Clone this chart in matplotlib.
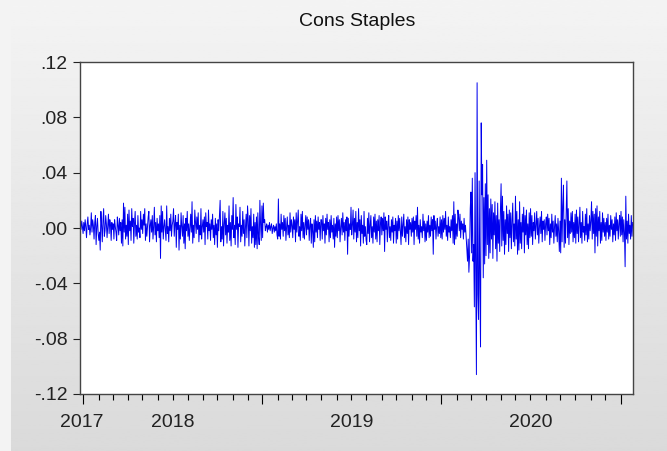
import numpy as np
import pandas as pd
import matplotlib
matplotlib.use("Agg")
import matplotlib.pyplot as plt
from matplotlib import transforms

# Daily returns, in units of 0.001, one line per month
ret_2017 = [2, -1, 5, 1, -4]
ret_2018 = [
    4, -2, 6, 1, -7, 3, 8, -1, 2, -5, 0, 11, -3, 6, 2, -8, 4, 9, -12, 1, 7, -4, -9,
    -3, -16, 12, 2, -10, 5, 14, -6, -2, 9, 3, -7, 1, 10, -4, 6, 2, -9, 4, -1,
    3, -8, 6, 1, -3, -9, 8, 2, -5, 7, -2, 4, -11, 6, -13, 18, -3, 15, -8, 2, -6, 10,
    -12, 13, -2, 5, -9, 14, 1, 7, -11, 3, 12, -6, 2, -8, 9, -3, 0, -7, 12, -1, 6,
    -4, 10, 2, 14, -9, 3, -6, 1, 8, 12, -10, 2, 6, -3, 9, -8, 1, 15, -5, 4, -10, 7, -2,
    3, -7, 9, -22, 16, -3, 12, -8, 1, 6, -2, -9, 16, -4, 1, -10, 7, -2, 10, -6, 2,
    5, 14, -6, 3, 9, -14, 4, -1, 10, -16, 2, -8, 11, 1, -6, 9, -11, 3, -15, 7, -2, 12,
    -6, 3, -9, 1, 10, -3, 19, -11, 2, -7, 13, 4, -4, 8, -1, 11, -10, 2, -5, 14, -8, 1, 6,
    -3, 8, -12, 11, 1, 4, -8, 13, -2, 3, -9, 6, -1, 10, -7, 2, -12, 7, -5, 3,
    -14, 6, -2, 9, 20, -10, 1, -8, 12, -13, 3, 11, -5, 7, -11, 2, -3, 16, -9, 4, -13, 9, -1,
    22, -7, 2, -12, 17, -1, 8, -14, 3, 1, 15, -10, 2, -6, 12, -4, 6, -13, 1, 10, -7, 16,
    6, -13, 9, -2, 14, -11, 1, -7, 10, -14, 4, -12, 8, -15, 11, -6, -12, 20, 3, -9, 16,
]
ret_2019 = [
    -7, 18, 4, 6, -2, 1, 3, -3, 2, -1, 4, -2, 1, 3, -4, 0, 2, -3, 1, -2, 3, -5, -8,
    21, -6, 3, -8, 10, -1, 4, -6, 9, -2, 7, -9, 1, 8, -5, 2, -7, 11, -3, 6,
    2, -7, 8, -1, 6, -10, 11, -3, 5, 13, -6, 1, -9, 10, -2, 12, -7, 4, -8, 2, 9,
    -5, 8, -1, 6, -9, 2, 7, -11, 3, -2, -14, 6, -10, 9, -3, 5, -7, 8, -1, 4, -9, 6,
    6, -8, 9, -2, 3, -11, 7, -5, 10, -1, 4, -10, 6, -7, 9, -3, 2, -8, 7, -14, 3, -6, 8,
    -7, 9, -2, 6, -10, 1, 7, -5, 11, -3, 4, -9, 6, -2, 8, -19, 7, -6, 3, -1,
    15, -5, 2, 13, -8, 7, -3, 12, -10, 4, -7, 14, -2, 6, -13, 9, -4, 2, -11, 12, -6, 1, -9,
    -12, 7, -4, 11, -10, 2, 9, -7, 1, -11, 8, -3, 10, -8, 5, -10, 6, -2, 9, -12, 3, 8,
    -5, 7, -2, 11, -17, 8, -1, 5, -10, 3, 9, -7, 1, -9, 6, -3, 8, -11, 2, -2, 7,
    -11, 5, -8, 9, -2, 7, -3, -12, 8, -6, 2, 10, -7, 1, -10, 6, -4, 8, -12, 6, -1, 4, -6,
    7, -3, 8, -12, 5, -1, 9, -6, 15, -8, 2, -11, 6, -3, 1, -7, 10, -2, 5, -10, 3,
    -9, 5, -3, 9, -7, 2, -6, 8, -2, 6, -19, 9, -1, 5, -8, 2, 7, -6, 1, -4, 8, -7,
]
ret_2020 = [
    6, -8, 9, -3, 7, -1, 12, -6, 2, -9, 8, -3, 1, -7, 6, -2, 9, -11, 19, -12, 10, -8, 3,
    -6, 13, 8, -2, 10, -7, 5, -1, 3, -8, 7, -3, 2, -6, -15, -24, -8, -32, -20, 14,
    26, -18, 36, -24, -12, -57, 40, -32, -106, 105, -48, -66, 34, -44, -86, 76, 24, 46, -36, 22, -26, 32,
    -20, 49, -12, 24, -22, 14, -18, 21, -8, 17, -22, 11, -5, 19, -15, 9, -24, 18, -11, 6, -17, 12,
    32, -13, 23, -9, 12, -19, 6, -12, 16, -4, 10, -17, 13, -7, 11, -15, 5, 18, -10, 3, -13,
    23, -8, 12, -19, 6, -16, 19, -11, 4, -15, 10, -3, 15, -18, 9, -5, 13, -12, 3, -15, 11, -7,
    14, -6, 9, -12, 4, -2, 11, -8, 2, 12, -5, 7, -11, 1, 8, -4, 12, -10, 5, -1, 6, -9, 3,
    8, -5, 10, -2, 7, -12, 3, -7, 10, -3, 5, -11, 1, 9, -6, 3, -10, 7, -2, -17, 5,
    -18, 36, -10, 16, 31, -14, 6, -11, 13, 34, -7, 14, -12, 5, -4, 11, -3, 12, -10, 4, -7, 10,
    -11, 13, -4, 8, -10, 2, 15, -7, 4, -11, 12, -3, 1, -9, 10, -5, 14, -10, 3, -8, 9, -2,
    5, 19, -8, 12, -4, 10, -18, 14, -6, 16, -13, 8, -2, 12, -11, 4, -9, 11, -3, 7, -6,
    4, -9, 7, -3, 10, -8, 2, -6, 9, -1, 6, -10, 3, -5, 8, -9, 11, -2, 6, -8, 3, 9, -6,
]
ret_2021 = [12, -5, 8, -10, 6, -3, -28, 23, -8, 5, -11, 10, -4, 2, -8, 9, -6, 4]

year_labels = ["2017", "2018", "2019", "2020"]
y_ticks = [0.12, 0.08, 0.04, 0.0, -0.04, -0.08, -0.12]
y_tick_labels = [".12", ".08", ".04", ".00", "-.04", "-.08", "-.12"]

returns = np.array(ret_2017 + ret_2018 + ret_2019 + ret_2020 + ret_2021) / 1000.0
dates = pd.bdate_range("2017-12-25", periods=len(returns))
x = np.arange(len(returns))

# month and year boundaries on the observation axis
month_starts = [i - 0.5 for i in range(1, len(dates)) if dates[i].month != dates[i - 1].month]
year_starts = [i - 0.5 for i in range(1, len(dates)) if dates[i].year != dates[i - 1].year]
year_centers = [x[dates.year == int(yr)].mean() for yr in year_labels]

plt.rcParams["font.family"] = ["Liberation Sans", "DejaVu Sans"]

fig = plt.figure(figsize=(6.67, 4.51), dpi=100)

# grey gradient backdrop
bg = fig.add_axes([0, 0, 1, 1], zorder=0)
grad = np.linspace(0.955, 0.855, 256).reshape(-1, 1)
bg.imshow(grad, aspect="auto", cmap="gray", vmin=0, vmax=1, extent=[0, 1, 0, 1])
bg.add_patch(plt.Rectangle((0, 0), 11 / 667, 1, color="#f3f3f3", lw=0))
bg.set_xlim(0, 1)
bg.set_ylim(0, 1)
bg.axis("off")

ax = fig.add_axes([80 / 667, 1 - 394 / 451, 553 / 667, 332 / 451], zorder=1)
ax.set_facecolor("white")
ax.plot(x, returns, color="#0000ee", lw=0.7)

ax.set_xlim(-0.5, len(returns) - 0.5)
ax.set_ylim(-0.12, 0.12)
ax.set_yticks(y_ticks)
ax.set_yticklabels(y_tick_labels)
ax.set_xticks(year_starts)
ax.set_xticklabels([])
ax.set_xticks(month_starts, minor=True)

ax.tick_params(axis="y", direction="out", length=5, width=0.8, pad=4, labelsize=14, colors="#222222")
ax.tick_params(axis="x", which="major", direction="out", length=7, width=0.8)
ax.tick_params(axis="x", which="minor", direction="out", length=4, width=0.8)
for s in ax.spines.values():
    s.set_color("#444444")
    s.set_linewidth(1.0)

trans = transforms.blended_transform_factory(ax.transData, ax.transAxes)
for label, xc in zip(year_labels, year_centers):
    ax.text(xc, -0.085, label, transform=trans, ha="center", va="center",
            fontsize=14, color="#222222")

fig.text(357 / 667, 1 - 22 / 451, "Cons Staples", ha="center", va="center",
         fontsize=14, color="#111111")

fig.savefig("out.png", dpi=100)
